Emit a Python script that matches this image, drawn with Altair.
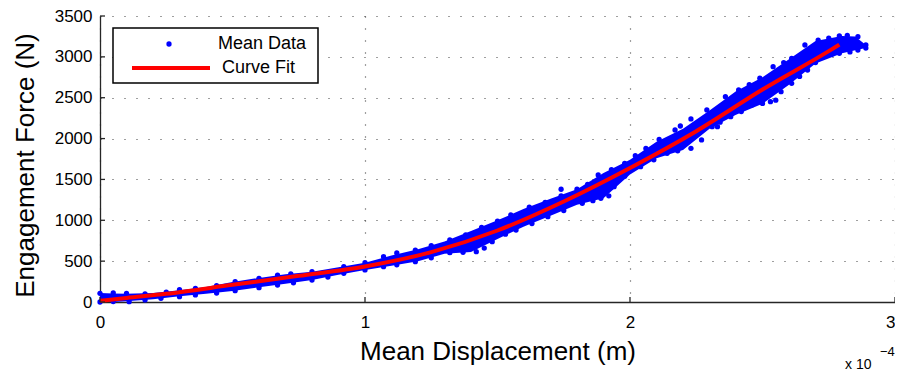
import altair as alt
import pandas as pd

# ---- data (x in units of 1e-4 m, y in N) ----
band_x = [0.00, 0.05, 0.10, 0.20, 0.30, 0.40, 0.50, 0.60, 0.70, 0.80, 0.90, 1.00,
          1.10, 1.20, 1.30, 1.40, 1.50, 1.60, 1.70, 1.80, 1.90, 2.00, 2.10, 2.20,
          2.30, 2.40, 2.50, 2.60, 2.70, 2.80, 2.85, 2.89]
band_hi = [110, 105, 100, 110, 145, 185, 245, 295, 340, 371, 425, 481,
           570, 645, 740, 870, 1000, 1140, 1265, 1380, 1580, 1740, 1960, 2120,
           2345, 2580, 2750, 2970, 3195, 3255, 3250, 3145]
band_lo = [0, 0, 8, 35, 70, 100, 135, 180, 222, 269, 335, 392,
           445, 500, 590, 612, 770, 925, 1055, 1190, 1270, 1560, 1760, 1860,
           2120, 2290, 2425, 2660, 2920, 3045, 3080, 3108]

edge_up_x = [0.00, 0.05, 0.10, 0.17, 0.25, 0.30, 0.36, 0.44, 0.51, 0.60, 0.67, 0.72,
             0.80, 0.92, 1.00, 1.07, 1.12, 1.19, 1.25, 1.32, 1.38, 1.44, 1.50, 1.55,
             1.62, 1.68, 1.74, 1.80, 1.84, 1.88, 1.93, 1.98, 2.02, 2.06, 2.11, 2.17,
             2.23, 2.29, 2.36, 2.41, 2.45, 2.49, 2.54, 2.58, 2.61, 2.66, 2.71, 2.75,
             2.79, 2.82, 2.86, 2.89]
edge_up_y = [106, 112, 105, 98, 120, 150, 167, 200, 249, 290, 330, 345,
             371, 432, 481, 555, 600, 636, 690, 759, 820, 914, 990, 1065,
             1160, 1220, 1300, 1380, 1440, 1554, 1620, 1697, 1790, 1880, 1990, 2105,
             2240, 2350, 2513, 2595, 2660, 2738, 2880, 2930, 2982, 3145, 3206, 3230,
             3255, 3262, 3247, 3145]
edge_lo_x = [0.00, 0.05, 0.11, 0.17, 0.23, 0.30, 0.36, 0.44, 0.51, 0.60, 0.67, 0.73,
             0.80, 0.86, 0.92, 1.00, 1.07, 1.12, 1.19, 1.25, 1.32, 1.37, 1.42, 1.45,
             1.48, 1.53, 1.57, 1.63, 1.69, 1.75, 1.82, 1.86, 1.89, 1.92, 1.94, 1.98,
             2.04, 2.09, 2.14, 2.18, 2.23, 2.27, 2.31, 2.34, 2.38, 2.42, 2.46, 2.50,
             2.53, 2.55, 2.57, 2.61, 2.64, 2.67, 2.70, 2.73, 2.76, 2.79, 2.83, 2.86,
             2.89]
edge_lo_y = [0, 5, 4, 25, 45, 65, 86, 110, 139, 175, 208, 235,
             269, 305, 351, 392, 432, 455, 493, 540, 603, 608, 616, 660,
             738, 830, 881, 960, 1044, 1120, 1208, 1240, 1269, 1300, 1411, 1540,
             1656, 1740, 1820, 1850, 1881, 1983, 2145, 2200, 2268, 2330, 2411, 2430,
             2451, 2470, 2574, 2676, 2760, 2839, 2930, 3002, 3030, 3043, 3060, 3084,
             3108]
extra_x = [2.19, 2.33, 1.74]
extra_y = [2154, 2145, 1380]

fit_x = [0.00, 0.10, 0.25, 0.50, 0.75, 1.00, 1.25, 1.50, 1.75, 2.00, 2.25, 2.50, 2.75, 2.79]
fit_y = [15, 50, 100, 210, 320, 435, 610, 875, 1230, 1640, 2090, 2600, 3070, 3150]

x_ticks = [0, 1, 2, 3]
y_ticks = [0, 500, 1000, 1500, 2000, 2500, 3000, 3500]

series = ["Mean Data", "Curve Fit"]
colors = ["#0000ff", "#ff0000"]

FONT = "Liberation Sans"

band_df = pd.DataFrame({"x": band_x, "lo": band_lo, "hi": band_hi})
pts_df = pd.DataFrame({
    "x": edge_up_x + edge_lo_x + extra_x,
    "y": edge_up_y + edge_lo_y + extra_y,
})
pts_df["series"] = series[0]
fit_df = pd.DataFrame({"x": fit_x, "y": fit_y})
fit_df["series"] = series[1]
xt_df = pd.DataFrame({"x": x_ticks})
yt_df = pd.DataFrame({"y": y_ticks})


def X(field):
    return alt.X(field, type="quantitative",
                 scale=alt.Scale(domain=[0, 3], nice=False, zero=False),
                 axis=alt.Axis(values=x_ticks, title="Mean Displacement (m)", format="d",
                               labelPadding=12, labelFlush=False,
                               labelAlign={"condition": {"test": "datum.value === 3",
                                                         "value": "right"},
                                           "value": "center"},
                               titleY=57, titleBaseline="alphabetic"))


def Y(field):
    return alt.Y(field, type="quantitative",
                 scale=alt.Scale(domain=[0, 3500], nice=False),
                 axis=alt.Axis(values=y_ticks, title="Engagement Force (N)", format="d",
                               labelPadding=8, labelFlush=False, titleX=-67, titleY=149,
                               titleBaseline="alphabetic", titleAngle=-90))


leg_common = dict(title=None, orient="none", padding=0, labelFont=FONT,
                  labelFontSize=18, labelColor="black", clipHeight=18)

fill_enc = alt.Fill("series:N",
                    scale=alt.Scale(domain=[series[0]], range=[colors[0]]),
                    legend=alt.Legend(legendX=60, legendY=19, symbolType="circle",
                                      symbolSize=28, symbolStrokeWidth=0,
                                      labelOffset=40, **leg_common))
stroke_enc = alt.Stroke("series:N",
                        scale=alt.Scale(domain=[series[1]], range=[colors[1]]),
                        legend=alt.Legend(legendX=30, legendY=43, symbolType="stroke",
                                          symbolSize=6084, symbolStrokeWidth=4,
                                          labelOffset=10, **leg_common))

band = alt.Chart(band_df).mark_area(color="#0000ff", opacity=1).encode(
    x=X("x"), y=Y("lo"), y2="hi")

pts = alt.Chart(pts_df).mark_circle(size=28, opacity=1).encode(
    x=X("x"), y=Y("y"), fill=fill_enc)

fit = alt.Chart(fit_df).mark_line(strokeWidth=4, interpolate="monotone").encode(
    x=X("x"), y=Y("y"), stroke=stroke_enc)

xt = alt.Chart(xt_df).mark_rule(color="#262626", strokeWidth=1.3).encode(
    x=X("x"), y=alt.value(286), y2=alt.value(281))
yt = alt.Chart(yt_df).mark_rule(color="#262626", strokeWidth=1.3).encode(
    y=Y("y"), x=alt.value(0), x2=alt.value(5))

box_df = pd.DataFrame({"k": ["legend box"]})
box = alt.Chart(box_df).mark_rect(fill="white", stroke="black", strokeWidth=1.5).encode(
    x=alt.value(13), x2=alt.value(218), y=alt.value(12), y2=alt.value(67))

ann_df = pd.DataFrame({"t": ["x 10"], "e": ["\u22124"]})
ann1 = alt.Chart(ann_df).mark_text(align="left", baseline="alphabetic", font=FONT,
                                   fontSize=14, color="black").encode(
    text="t:N", x=alt.value(745), y=alt.value(353))
ann2 = alt.Chart(ann_df).mark_text(align="left", baseline="alphabetic", font=FONT,
                                   fontSize=13, color="black").encode(
    text="e:N", x=alt.value(780), y=alt.value(340))

chart = alt.layer(band, pts, fit, xt, yt, box, ann1, ann2).properties(
    width=795, height=286,
    padding={"left": 92, "top": 8, "right": 0, "bottom": 70},
    autosize=alt.AutoSizeParams(type="none"),
).configure_view(stroke=None).configure_axis(
    domainColor="#262626", domainWidth=1.3,
    grid=True, gridColor="#404040", gridDash=[1, 11], gridWidth=1.2, gridOpacity=1,
    labelFont=FONT, labelFontSize=17, labelColor="black",
    titleFont=FONT, titleFontSize=26, titleFontWeight="normal", titleColor="black",
    tickSize=0,
)

chart.save("out.html", embed_options={"renderer": "svg", "actions": False})
